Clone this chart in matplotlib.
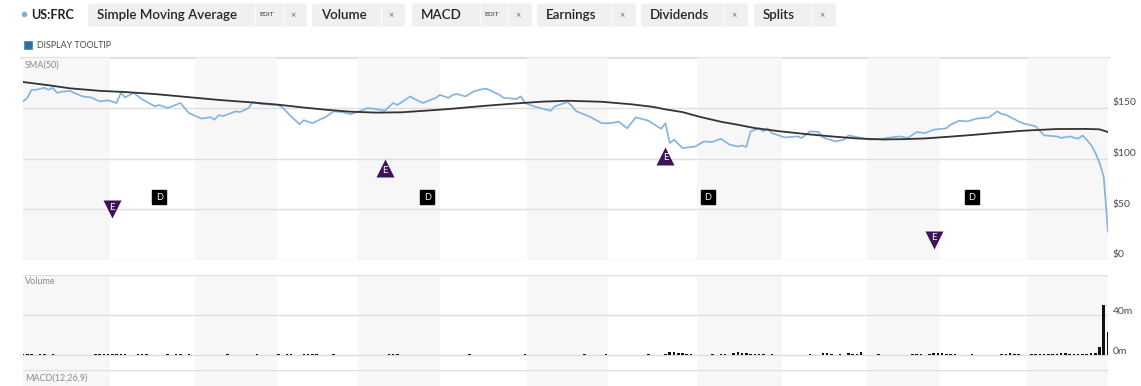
import matplotlib

matplotlib.use("Agg")
import matplotlib.pyplot as plt  # noqa: E402
from matplotlib.patches import FancyBboxPatch, Rectangle, Circle  # noqa: E402

plt.rcParams["font.family"] = ["Lato", "DejaVu Sans"]

W, H = 1141, 386

# ---- data (x = trading-day index) ----
price_day = [0, 1, 2, 3, 5, 6, 7, 8, 9, 11, 12, 14, 16, 18, 20, 22, 23, 24, 26, 28,
             31, 32, 34, 37, 39, 42, 44, 45, 46, 47, 50, 51, 53, 54, 56, 60, 61, 63, 65, 66,
             68, 70, 71, 73, 75, 77, 79, 81, 83, 85, 87, 88, 91, 92, 94, 97, 98, 100, 101, 102,
             104, 106, 108, 109, 112, 113, 116, 117, 118, 120, 124, 125, 128, 129, 130, 132, 133, 136, 138, 140,
             142, 144, 147, 149, 150, 151, 152, 153, 155, 158, 160, 162, 164, 166, 168, 169, 170, 171, 173, 174,
             175, 176, 179, 182, 183, 185, 187, 188, 191, 193, 194, 197, 199, 202, 204, 206, 208, 210, 212, 214,
             217, 218, 220, 222, 224, 227, 229, 230, 231, 234, 235, 238, 240, 243, 244, 246, 248, 249, 250, 251,
             252, 253, 254, 255]
price_close = [156.6, 160, 168, 168, 170, 168, 170, 165, 166, 167, 165, 161.5, 160.5, 156.6, 157.6, 155, 165, 160.5, 165, 158.6,
               151.7, 153, 150, 155, 145, 139.5, 141, 138.5, 143, 142, 146.7, 146, 150, 156, 154, 153, 150.5, 141.8, 134, 138,
               135, 139, 140.8, 146.7, 146, 144, 146.7, 150, 149, 147.3, 155, 153, 161.5, 159, 155, 160, 163, 160, 163, 163.8,
               161.5, 166.5, 168.7, 169, 163, 160, 159, 161.5, 155, 151.7, 147.3, 151.7, 156, 152, 147, 143.4, 142, 135, 135, 136.5,
               130, 140.8, 137.5, 132, 129.6, 135, 115.5, 118.8, 110.5, 112, 117, 116.5, 119.7, 114, 112, 113, 111.5, 127, 130, 127,
               130, 125.3, 121, 122, 120.5, 127, 126.3, 121, 117, 118.8, 123, 120.5, 118.8, 119.7, 121, 122, 120.5, 126.3, 125.3, 128.6,
               130, 133.5, 137.5, 136.8, 139.5, 140.8, 146.7, 144, 143.4, 136.8, 135, 132, 123, 122, 120.5, 122, 119.7, 123, 118.7, 113.7,
               106, 96, 82, 28]

sma_day = [0, 6, 11, 18, 24, 31, 37, 46, 53, 60, 66, 71, 77, 83, 89, 95, 100, 108, 116, 122,
           128, 136, 143, 148, 151, 155, 159, 164, 168, 172, 178, 184, 190, 196, 202, 207, 212, 218, 223, 229,
           235, 243, 250, 253, 255]
sma_50 = [175.7, 172.5, 169.5, 167, 165.8, 163.8, 161.5, 158, 155.8, 153.3, 150.5, 148.4, 146.4, 145.5, 145.8, 147.5, 149, 152, 154.6, 156.3,
          157.2, 156.2, 153.7, 151.2, 148.7, 146, 141.4, 136.5, 133.5, 130.2, 127, 124.3, 122, 120, 119, 119.3, 120, 121.8, 123.4, 125.6,
          127.6, 129.3, 129.4, 129, 126.3]

vol_day = [0, 1, 2, 4, 5, 7, 17, 18, 19, 20, 21, 22, 23, 24, 27, 28, 29, 34, 36, 37,
           39, 48, 55, 60, 62, 63, 66, 67, 68, 69, 73, 86, 87, 88, 105, 118, 132, 137, 147, 151,
           152, 153, 154, 155, 156, 157, 162, 164, 165, 167, 168, 169, 170, 171, 172, 173, 174, 176, 185, 188,
           189, 190, 192, 194, 195, 196, 197, 201, 209, 210, 211, 213, 214, 215, 216, 217, 218, 219, 223, 230,
           231, 232, 233, 234, 237, 238, 239, 240, 241, 242, 243, 244, 245, 246, 247, 248, 249, 250, 251, 252,
           253, 254, 255]
vol_m = [1.2, 1.2, 1.2, 1.0, 1.2, 1.0, 1.2, 1.4, 1.3, 1.2, 1.5, 1.3, 1.4, 1.2, 1.1, 1.2, 1.0, 1.1, 1.2, 1.0,
         1.1, 1.1, 1.0, 1.1, 1.2, 1.0, 1.3, 1.2, 1.4, 1.2, 1.0, 1.3, 1.2, 1.4, 1.0, 1.0, 1.1, 1.0, 1.1, 1.5,
         3.0, 2.8, 1.8, 1.6, 1.5, 1.5, 1.2, 1.2, 1.3, 2.4, 2.6, 2.3, 2.0, 1.5, 1.4, 1.3, 1.2, 1.1, 1.2, 1.8,
         1.6, 1.2, 1.1, 1.6, 1.4, 1.5, 3.5, 1.1, 1.2, 1.1, 1.2, 1.3, 1.6, 2.0, 1.8, 1.5, 1.3, 1.2, 1.1, 1.2,
         1.1, 2.0, 1.3, 1.2, 1.2, 1.1, 1.2, 1.3, 1.3, 1.4, 1.5, 2.0, 1.8, 1.3, 1.2, 1.2, 1.4, 1.3, 2.0, 1.8,
         8, 50, 23]

earn_day = [21, 85, 151, 214]
earn_level = [50, 90.5, 102.5, 20]
earn_dir = ["down", "up", "up", "down"]

div_day = [32, 95, 161, 223]
div_level = [62, 62, 62, 62]

# alternating monthly shading (edges in trading days)
month_edges = [0, 20.45, 40.42, 59.69, 78.73, 98.0, 118.45, 137.49, 158.4, 178.38,
               198.36, 215.5, 235.96, 255.0]

price_ticks = [0, 50, 100, 150]
price_labels = ["$0", "$50", "$100", "$150"]
vol_ticks = [0, 40]
vol_labels = ["0m", "40m"]

toolbar = [("Simple Moving Average", True), ("Volume", False), ("MACD", True),
           ("Earnings", False), ("Dividends", False), ("Splits", False)]

# ---- layout helpers (pixel boxes) ----
PL, PR = 23, 1108


def ax_box(top, bottom):
    return [PL / W, 1 - bottom / H, (PR - PL) / W, (bottom - top) / H]


fig = plt.figure(figsize=(W / 100, H / 100), dpi=100)
fig.patch.set_facecolor("white")

# overlay for header / chrome in pixel coordinates
ov = fig.add_axes([0, 0, 1, 1])
ov.set_xlim(0, W)
ov.set_ylim(H, 0)
ov.axis("off")

BLUE = "#86b4e0"
DARK = "#333333"
BAND = "#f7f7f7"
GRID = "#dedede"
PURPLE = "#3a1457"

ov.add_patch(Circle((24.5, 14.5), 2.0, color="#7aaedc"))
ov.text(31, 15, "US:FRC", fontsize=9, fontweight="bold", color="#1f1f1f",
        va="center", ha="left")

btn_x = [88, 312, 412, 537, 641, 754]
btn_w = [219, 93, 120, 99, 107, 82]
for (label, has_edit), bx, bw in zip(toolbar, btn_x, btn_w):
    ov.add_patch(FancyBboxPatch((bx, 3.5), bw, 23, boxstyle="round,pad=0,rounding_size=2",
                                fc="#f0f0f0", ec="none"))
    ov.text(bx + 9, 15, label, fontsize=9.6, color="#262626", va="center", ha="left",
            fontweight="semibold")
    xx = bx + bw - 14
    ov.text(xx, 15.5, "×", fontsize=6.5, color="#666666", va="center", ha="center")
    ov.plot([xx - 10, xx - 10], [4, 26], color="#fafafa", lw=1)
    if has_edit:
        ex = bx + bw - 40
        ov.text(ex, 15, "EDIT", fontsize=4.6, color="#333333", va="center", ha="center",
                family=["DejaVu Sans Condensed", "DejaVu Sans"])
        ov.plot([ex - 12, ex - 12], [4, 26], color="#fafafa", lw=1)

ov.add_patch(Rectangle((24, 41), 8, 8, fc="#2e6f9e", ec="#5e93bd", lw=0.8))
ov.text(37, 45.2, "DISPLAY TOOLTIP", fontsize=6.4, color="#4a4a4a", va="center", ha="left")
ov.plot([20, 1110], [58, 58], color="#e2e2e2", lw=1.6, solid_capstyle="butt")

ax_p = fig.add_axes(ax_box(58, 260))
ax_v = fig.add_axes(ax_box(275, 370))
ax_m = fig.add_axes(ax_box(370, 386))

for ax in (ax_p, ax_v, ax_m):
    ax.set_xlim(0, 255)
    ax.axis("off")
    for i in range(0, len(month_edges) - 1, 2):
        ax.axvspan(month_edges[i], month_edges[i + 1], color=BAND, lw=0, zorder=0)

# price panel
ax_p.set_ylim(0, 199.4)
for t, lab in zip(price_ticks, price_labels):
    ax_p.axhline(t, color=GRID, lw=1, zorder=1)
    ax_p.text(1.0045, t + 5, lab, transform=ax_p.get_yaxis_transform(), fontsize=7.5,
              color="#4a4a4a", va="center", ha="left")
ax_p.plot(price_day, price_close, color=BLUE, lw=1.25, zorder=3)
ax_p.plot(sma_day, sma_50, color=DARK, lw=1.3, zorder=4)
ax_p.text(0.002, 0.965, "SMA(50)", transform=ax_p.transAxes, fontsize=6.5, color="#8a8a8a",
          va="center", ha="left")

for d, lvl, dr in zip(earn_day, earn_level, earn_dir):
    mk = "^" if dr == "up" else "v"
    ax_p.plot([d], [lvl], marker=mk, ms=13.5, color=PURPLE, mec="none", zorder=5)
    ax_p.text(d, lvl + (-1.8 if dr == "up" else 1.8), "E", fontsize=7, color="white",
              ha="center", va="center", zorder=6)
for d, lvl in zip(div_day, div_level):
    ax_p.plot([d], [lvl], marker="s", ms=9.5, color="black", zorder=5)
    ax_p.text(d, lvl, "D", fontsize=6.6, color="white", ha="center", va="center", zorder=6)

# volume panel
ax_v.set_ylim(-15, 80)
for t in [80] + vol_ticks:
    ax_v.axhline(t, color=GRID, lw=1, zorder=1)
for t, lab in zip(vol_ticks, vol_labels):
    ax_v.text(1.0045, t + 4, lab, transform=ax_v.get_yaxis_transform(), fontsize=7.5,
              color="#4a4a4a", va="center", ha="left")
ax_v.bar(vol_day, vol_m, width=0.6, color="#111111", zorder=3)
ax_v.text(0.002, 0.93, "Volume", transform=ax_v.transAxes, fontsize=6.5, color="#8a8a8a",
          va="center", ha="left")

# MACD panel (cut off at the bottom)
ax_m.set_ylim(0, 1)
ax_m.axhline(1, color=GRID, lw=1, zorder=1)
ax_m.text(0.002, 0.5, "MACD(12,26,9)", transform=ax_m.transAxes, fontsize=6.5,
          color="#8a8a8a", va="center", ha="left")

fig.savefig("out.png", dpi=100)
